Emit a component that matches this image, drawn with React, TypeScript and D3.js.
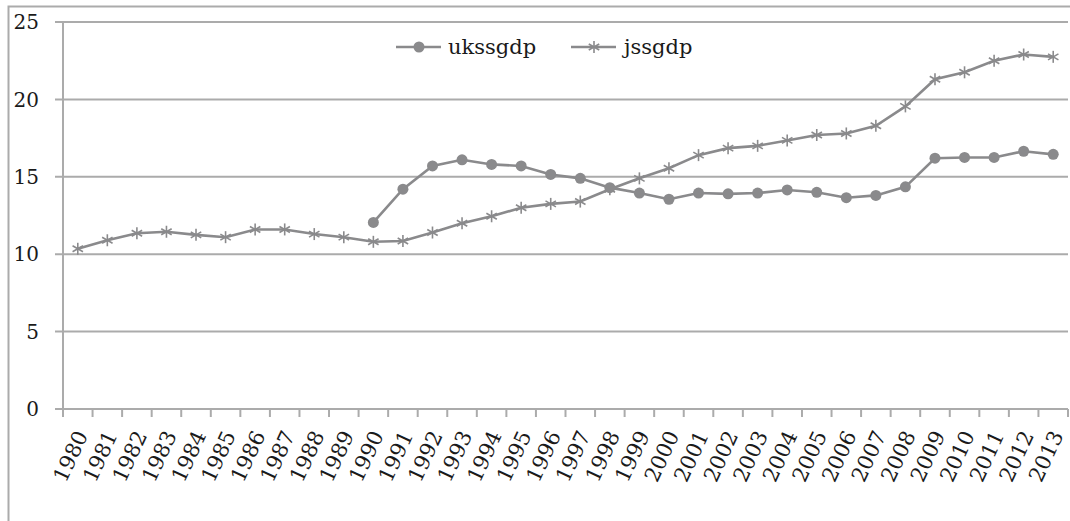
import React from "react";
import * as d3 from "d3";

const years: string[] = d3.range(1980, 2014).map(String);
const jssgdp: number[] = [10.35, 10.9, 11.35, 11.45, 11.25, 11.1, 11.6, 11.6, 11.3, 11.1, 10.8, 10.85, 11.4, 12.0, 12.45, 13.0, 13.25, 13.4, 14.2, 14.9, 15.55, 16.4, 16.85, 17.0, 17.35, 17.7, 17.8, 18.3, 19.55, 21.3, 21.75, 22.5, 22.9, 22.75];
const ukssgdp: (number | null)[] = [null, null, null, null, null, null, null, null, null, null, 12.05, 14.2, 15.7, 16.1, 15.8, 15.7, 15.15, 14.9, 14.3, 13.95, 13.55, 13.95, 13.9, 13.95, 14.15, 14.0, 13.65, 13.8, 14.35, 16.2, 16.25, 16.25, 16.65, 16.45];
const yTicks: number[] = [0, 5, 10, 15, 20, 25];

const W = 1070, H = 521;
const left = 63, right = 1068, top = 22, bottom = 409;
const LINE = "#8a8a8c";
const GRID = "#ababab";
const FONT = "'DejaVu Serif', serif";

export default function App() {
  const x = d3.scaleBand<string>().domain(years).range([left, right]);
  const y = d3.scaleLinear().domain([0, 25]).range([bottom, top]);
  const cx = (d: string) => (x(d) as number) + x.bandwidth() / 2;

  const lineJ = d3.line<number>().x((_, i) => cx(years[i])).y((d) => y(d));
  const lineU = d3
    .line<number | null>()
    .defined((d) => d != null)
    .x((_, i) => cx(years[i]))
    .y((d) => y(d as number));

  const star = (px: number, py: number, r: number, key: any) => (
    <g key={key} stroke={LINE} strokeWidth={1.6}>
      <line x1={px} y1={py - r} x2={px} y2={py + r} />
      <line x1={px - r * 0.87} y1={py - r * 0.5} x2={px + r * 0.87} y2={py + r * 0.5} />
      <line x1={px - r * 0.87} y1={py + r * 0.5} x2={px + r * 0.87} y2={py - r * 0.5} />
    </g>
  );

  const boundaries = d3.range(0, years.length + 1).map((i) => left + i * x.step());

  return (
    <svg width={W} height={H} style={{ position: "absolute", left: 0, top: 0, background: "#fff" }}>
      <rect x={8.5} y={6.5} width={1070} height={600} fill="none" stroke={GRID} strokeWidth={2} />
      {yTicks.map((t) => (
        <g key={t}>
          <line x1={55} x2={right} y1={y(t)} y2={y(t)} stroke={GRID} strokeWidth={2} />
          <text x={39} y={y(t)} dy="0.36em" textAnchor="end" fontFamily={FONT} fontSize={20} fill="#1a1a1a">
            {t}
          </text>
        </g>
      ))}
      <line x1={left} x2={left} y1={top} y2={bottom} stroke={GRID} strokeWidth={2} />
      {boundaries.map((bx, i) => (
        <line key={i} x1={bx} x2={bx} y1={bottom} y2={bottom + 8} stroke={GRID} strokeWidth={2} />
      ))}
      {years.map((yr) => (
        <text
          key={yr}
          transform={`translate(${cx(yr) + 4},${bottom + 23}) rotate(-65)`}
          textAnchor="end"
          dy="0.35em"
          fontFamily={FONT}
          fontSize={21}
          fill="#1a1a1a"
        >
          {yr}
        </text>
      ))}
      <path d={lineJ(jssgdp) || ""} fill="none" stroke={LINE} strokeWidth={2.6} />
      <path d={lineU(ukssgdp) || ""} fill="none" stroke={LINE} strokeWidth={2.6} />
      {jssgdp.map((v, i) => star(cx(years[i]), y(v), 6, "s" + i))}
      {ukssgdp.map((v, i) =>
        v == null ? null : <circle key={"c" + i} cx={cx(years[i])} cy={y(v)} r={5.5} fill={LINE} />
      )}
      <line x1={396} x2={441} y1={47} y2={47} stroke={LINE} strokeWidth={2.6} />
      <circle cx={419} cy={47} r={5.5} fill={LINE} />
      <text x={448} y={47} dy="0.33em" fontFamily={FONT} fontSize={21} fill="#1a1a1a">ukssgdp</text>
      <line x1={571} x2={616} y1={47} y2={47} stroke={LINE} strokeWidth={2.6} />
      {star(594, 47, 6, "leg")}
      <text x={624} y={47} dy="0.33em" fontFamily={FONT} fontSize={21} fill="#1a1a1a">jssgdp</text>
    </svg>
  );
}
